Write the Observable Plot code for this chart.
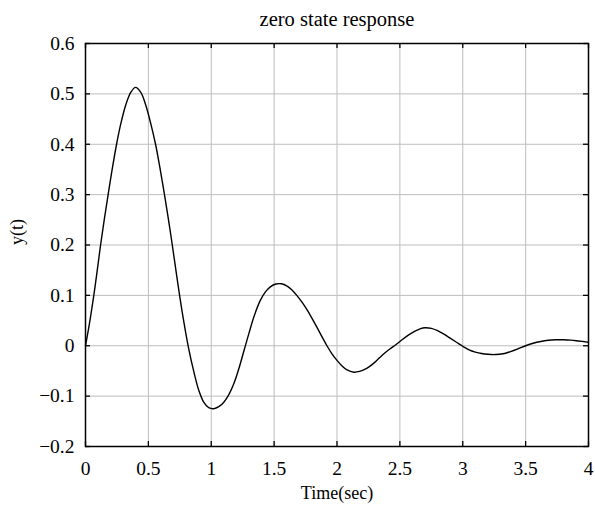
<!DOCTYPE html>
<html>
<head>
<meta charset="utf-8">
<script src="https://cdn.jsdelivr.net/npm/d3@7"></script>
<script src="https://cdn.jsdelivr.net/npm/@observablehq/plot@0.6"></script>
<style>
  html, body { margin: 0; padding: 0; background: #fff; }
  svg { display: block; }
</style>
</head>
<body>
<div id="chart"></div>
<script>
const titleText = "zero state response";
const xLabel = "Time(sec)";
const yLabel = "y(t)";

const xTicks = [0, 0.5, 1, 1.5, 2, 2.5, 3, 3.5, 4];
const xTickLabels = ["0", "0.5", "1", "1.5", "2", "2.5", "3", "3.5", "4"];
const yTicks = [-0.2, -0.1, 0, 0.1, 0.2, 0.3, 0.4, 0.5, 0.6];
const yTickLabels = ["\u22120.2", "\u22120.1", "0", "0.1", "0.2", "0.3", "0.4", "0.5", "0.6"];

const t = [0, 0.03, 0.066, 0.09, 0.12, 0.15, 0.18, 0.21, 0.247, 0.28, 0.32, 0.36, 0.398, 0.44, 0.48, 0.52, 0.557, 0.59, 0.628, 0.66, 0.689, 0.72, 0.75, 0.785, 0.82, 0.86, 0.90, 0.94, 0.98, 1.02, 1.06, 1.10, 1.14, 1.18, 1.22, 1.26, 1.30, 1.34, 1.39, 1.431, 1.47, 1.515, 1.559, 1.60, 1.64, 1.68, 1.72, 1.76, 1.80, 1.84, 1.88, 1.92, 1.96, 2.0, 2.04, 2.08, 2.134, 2.18, 2.22, 2.26, 2.30, 2.34, 2.38, 2.42, 2.47, 2.52, 2.57, 2.62, 2.66, 2.70, 2.75, 2.80, 2.85, 2.90, 2.95, 3.0, 3.05, 3.10, 3.15, 3.20, 3.26, 3.32, 3.38, 3.44, 3.50, 3.56, 3.62, 3.68, 3.74, 3.80, 3.86, 3.92, 3.96, 4.0];
const y = [0, 0.042, 0.1, 0.143, 0.2, 0.252, 0.3, 0.347, 0.4, 0.44, 0.478, 0.503, 0.513, 0.503, 0.477, 0.44, 0.40, 0.356, 0.30, 0.25, 0.202, 0.148, 0.097, 0.043, -0.005, -0.05, -0.088, -0.112, -0.123, -0.125, -0.121, -0.112, -0.097, -0.075, -0.045, -0.01, 0.025, 0.058, 0.09, 0.107, 0.117, 0.1225, 0.123, 0.119, 0.111, 0.1, 0.087, 0.072, 0.055, 0.037, 0.018, 0.0, -0.016, -0.029, -0.04, -0.048, -0.0525, -0.051, -0.047, -0.041, -0.033, -0.0235, -0.0145, -0.0065, 0.0025, 0.0125, 0.0215, 0.029, 0.0335, 0.0358, 0.0345, 0.030, 0.023, 0.015, 0.007, -0.001, -0.008, -0.0125, -0.0155, -0.017, -0.0175, -0.016, -0.0115, -0.006, 0.0, 0.005, 0.0085, 0.0108, 0.0118, 0.012, 0.0112, 0.0095, 0.0083, 0.007];

const data = t.map((tv, i) => ({t: tv, y: y[i]}));
const font = "'Liberation Serif', 'Times New Roman', serif";

const chart = Plot.plot({
  width: 595,
  height: 507,
  marginLeft: 85,
  marginRight: 7,
  marginTop: 43,
  marginBottom: 61,
  style: {fontFamily: font, background: "#fff"},
  x: {domain: [0, 4], axis: null},
  y: {domain: [-0.2, 0.6], axis: null},
  marks: [
    Plot.ruleX(xTicks, {x: d => d, stroke: "#bdbdbd", strokeWidth: 1}),
    Plot.ruleY(yTicks, {y: d => d, stroke: "#bdbdbd", strokeWidth: 1}),
    Plot.tickX(xTicks, {x: d => d, insetTop: 398, stroke: "#000", strokeWidth: 1.3}),
    Plot.tickX(xTicks, {x: d => d, insetBottom: 398, stroke: "#000", strokeWidth: 1.3}),
    Plot.tickY(yTicks, {y: d => d, insetRight: 498, stroke: "#000", strokeWidth: 1.3}),
    Plot.tickY(yTicks, {y: d => d, insetLeft: 498, stroke: "#000", strokeWidth: 1.3}),
    Plot.line(data, {x: "t", y: "y", stroke: "#000", strokeWidth: 1.4, curve: "catmull-rom"}),
    Plot.frame({stroke: "#000", strokeWidth: 1.5}),
    Plot.text(xTicks, {x: d => d, frameAnchor: "bottom", dy: 14.5, lineAnchor: "top", text: (d, i) => xTickLabels[i], fontSize: 19.5, fill: "#000"}),
    Plot.text(yTicks, {y: d => d, frameAnchor: "left", dx: -11, textAnchor: "end", lineAnchor: "middle", text: (d, i) => yTickLabels[i], fontSize: 19.5, fill: "#000"}),
    Plot.text([titleText], {frameAnchor: "top", dy: -24, lineAnchor: "middle", fontSize: 20.5, fill: "#000"}),
    Plot.text([xLabel], {frameAnchor: "bottom", dy: 47, lineAnchor: "middle", fontSize: 18, fill: "#000"}),
    Plot.text([yLabel], {frameAnchor: "left", dx: -68, rotate: -90, lineAnchor: "middle", fontSize: 18, fill: "#000"})
  ]
});
document.getElementById("chart").appendChild(chart);
</script>
</body>
</html>
